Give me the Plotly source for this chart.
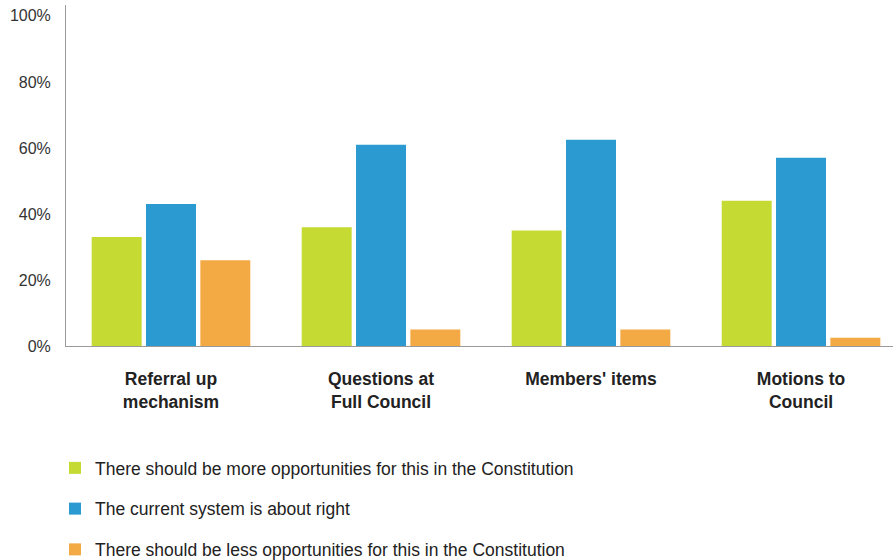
import plotly.graph_objects as go

categories = ["Referral up<br>mechanism", "Questions at<br>Full Council", "Members' items", "Motions to<br>Council"]
series_names = [
    "There should be more opportunities for this in the Constitution",
    "The current system is about right",
    "There should be less opportunities for this in the Constitution",
]
more_vals = [33, 36, 35, 44]
right_vals = [43, 61, 62.5, 57]
less_vals = [26, 5, 5, 2.5]
colors = ["#C6DA34", "#2A9AD0", "#F3AA44"]
y_ticks = [0, 20, 40, 60, 80, 100]
y_tick_text = ["0%", "20%", "40%", "60%", "80%", "100%"]

fig = go.Figure()
for i, (name, vals) in enumerate(zip(series_names, [more_vals, right_vals, less_vals])):
    fig.add_trace(go.Bar(
        x=list(range(len(categories))), y=vals, name=name,
        marker=dict(color=colors[i], line=dict(width=0)),
        legendgroup=f"g{i}",
    ))

fig.update_layout(
    width=893, height=560,
    margin=dict(l=66, r=0, t=5, b=214, autoexpand=False),
    paper_bgcolor="white", plot_bgcolor="white",
    barmode="group", bargap=0.224, bargroupgap=0.08,
    font=dict(family="Arial, Liberation Sans, sans-serif", size=16, color="#222"),
    xaxis=dict(
        range=[-0.5, 3.438], tickmode="array", tickvals=list(range(len(categories))),
        ticktext=[f"<b>{c}</b>" for c in categories],
        showline=True, linecolor="#9a9a9a", linewidth=1, ticks="",
        ticklabelstandoff=17, showgrid=False, zeroline=False, automargin=False,
        tickfont=dict(size=17.5, color="#222"),
    ),
    yaxis=dict(
        range=[0, 103.3], tickmode="array", tickvals=y_ticks, ticktext=y_tick_text,
        showline=True, linecolor="#9a9a9a", linewidth=1, ticks="",
        ticklabelstandoff=11, showgrid=False, zeroline=False, automargin=False,
        tickfont=dict(size=16, color="#333"),
    ),
    legend=dict(
        xref="container", yref="container",
        x=55 / 893, y=1 - 450 / 560, xanchor="left", yanchor="top",
        orientation="v", traceorder="grouped", tracegroupgap=15,
        font=dict(size=17.5, color="#222"), bgcolor="rgba(0,0,0,0)",
    ),
    showlegend=True,
)

fig.write_html(
    "out.html",
    config={"displayModeBar": False},
    post_script="document.body.style.margin='0';document.body.style.overflow='hidden';",
)
